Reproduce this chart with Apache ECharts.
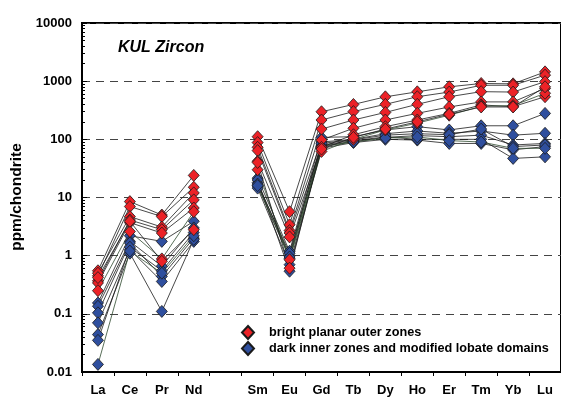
<!DOCTYPE html>
<html>
<head>
<meta charset="utf-8">
<script src="https://cdn.jsdelivr.net/npm/echarts@6/dist/echarts.min.js"></script>
<style>
  html, body { margin: 0; padding: 0; background: #fff; }
  #chart { width: 561px; height: 397px; }
</style>
</head>
<body>
<div id="chart"></div>
<script>
// REE order; the blank slot is Pm (not measured), so every line breaks there
const elements = ['La', 'Ce', 'Pr', 'Nd', '', 'Sm', 'Eu', 'Gd', 'Tb', 'Dy', 'Ho', 'Er', 'Tm', 'Yb', 'Lu'];
const yTickLabels = ['0.01', '0.1', '1', '10', '100', '1000', '10000'];

const brightName = 'bright planar outer zones';
const darkName = 'dark inner zones and modified lobate domains';

// chondrite-normalised analyses, bright planar outer zones
const brightA = [0.55, 8.5, 5.0, 24, null, 111, 5.7, 298, 398, 538, 656, 800, 912, 900, 1445];
const brightB = [0.45, 7.0, 4.7, 15, null, 88, 3.4, 215, 300, 400, 540, 650, 850, 850, 1270];
const brightC = [0.50, 4.7, 3.1, 12, null, 73, 2.7, 150, 215, 290, 400, 540, 660, 650, 980];
const brightD = [0.37, 4.1, 2.8, 9.1, null, 64, 2.45, 97, 155, 215, 280, 360, 440, 440, 750];
const brightE = [0.34, 3.7, 2.45, 6.6, null, 42, 2.1, 73, 120, 165, 215, 280, 390, 365, 540];
const brightF = [0.25, 2.6, 0.88, 5.7, null, 30, 0.85, 62, 100, 145, 190, 260, 370, 380, 620];
const brightG = [0.42, 3.9, 0.80, 2.8, null, 40, 0.61, 68, 108, 150, 200, 270, 360, 360, 800];

// dark inner zones and modified lobate domains
const darkA = [0.154, 2.2, 1.76, 3.9, null, 21.5, 1.19, 108, 111, 145, 165, 145, 171, 171, 279];
const darkB = [0.135, 1.76, 0.66, 3.0, null, 18, 1.0, 90, 100, 125, 139, 127, 139, 118, 127];
const darkC = [0.104, 1.65, 0.44, 2.0, null, 15.8, 0.9, 77, 91, 108, 116, 111, 118, 80, 85];
const darkD = [0.07, 1.27, 0.36, 1.76, null, 14.5, 0.7, 70, 88, 100, 97, 85, 85, 66, 75];
const darkE = [0.044, 1.1, 0.11, 1.9, null, 20, 0.54, 80, 95, 110, 100, 100, 100, 47, 50];
const darkF = [0.035, 1.4, 0.55, 2.5, null, 17, 1.1, 85, 98, 118, 125, 120, 150, 75, 80];
const darkG = [0.0135, 1.2, 0.5, 2.2, null, 16, 0.95, 75, 90, 105, 110, 95, 90, 70, 70];

const brightSets = [brightA, brightB, brightC, brightD, brightE, brightF, brightG];
const darkSets = [darkA, darkB, darkC, darkD, darkE, darkF, darkG];

const RED = '#ec2227';
const BLUE = '#2f4f9e';
const FONT = 'Liberation Sans, Arial, sans-serif';

function profile(name, values, color, lineColor) {
  return {
    name: name,
    type: 'line',
    data: values,
    connectNulls: false,
    symbol: 'diamond',
    symbolSize: [11, 12],
    showSymbol: true,
    itemStyle: { color: color, borderColor: '#1a1a1a', borderWidth: 0.8 },
    lineStyle: { color: lineColor, width: 0.8 },
    emphasis: { disabled: true },
    animation: false
  };
}

const series = [];
darkSets.forEach((d, i) => series.push(profile(darkName, d, BLUE, i === 6 ? '#2f4a2f' : '#1a1a1a')));
brightSets.forEach((d, i) => series.push(profile(brightName, d, RED, i === 5 ? '#2f4a2f' : '#1a1a1a')));

// log minor tick positions (2..9 within each decade)
const minorTicks = [];
for (let e = -2; e < 4; e++) {
  for (let k = 2; k <= 9; k++) minorTicks.push(k * Math.pow(10, e));
}

const chart = echarts.init(document.getElementById('chart'), null, { renderer: 'canvas' });
chart.setOption({
  animation: false,
  backgroundColor: '#fff',
  title: {
    text: 'KUL Zircon',
    left: 113,
    top: 35,
    textStyle: { fontFamily: FONT, fontSize: 16, fontWeight: 'bold', fontStyle: 'italic', color: '#000' }
  },
  legend: {
    orient: 'vertical',
    left: 236,
    top: 320,
    icon: 'diamond',
    itemWidth: 12,
    itemHeight: 13,
    itemGap: 1,
    data: [brightName, darkName],
    textStyle: { fontFamily: FONT, fontSize: 12.7, fontWeight: 'bold', color: '#000', padding: [0, 0, 0, 10] }
  },
  grid: {
    left: 82, right: -4, top: 23, bottom: 24,
    show: true, borderColor: '#000', borderWidth: 2
  },
  xAxis: {
    type: 'category',
    data: elements,
    boundaryGap: true,
    axisLine: { lineStyle: { color: '#000', width: 2 } },
    axisTick: { show: true, inside: false, length: 4, interval: 0, lineStyle: { color: '#000', width: 1 } },
    axisLabel: { interval: 0, margin: 12, fontFamily: FONT, fontSize: 13, fontWeight: 'bold', color: '#000' },
    splitLine: { show: false }
  },
  yAxis: [
    {
      type: 'log',
      logBase: 10,
      min: 0.01,
      max: 10000,
      axisLine: { show: true, lineStyle: { color: '#000', width: 2 } },
      axisTick: { show: true, inside: true, length: 5, lineStyle: { color: '#000', width: 1 } },
      axisLabel: {
        margin: 10,
        fontFamily: FONT, fontSize: 13, fontWeight: 'bold', color: '#000',
        formatter: v => yTickLabels[Math.round(Math.log10(v)) + 2]
      },
      splitLine: { show: true, lineStyle: { color: '#444', width: 1, type: [8, 6] } },
      minorTick: { show: false }
    },
    {
      type: 'log',
      logBase: 10,
      min: 0.01,
      max: 10000,
      position: 'left',
      axisLine: { show: false },
      axisLabel: { show: false },
      splitLine: { show: false },
      axisTick: { show: true, inside: true, length: 3, customValues: minorTicks, lineStyle: { color: '#000', width: 1 } }
    }
  ],
  graphic: [
    {
      type: 'text',
      x: 17, y: 197,
      rotation: Math.PI / 2,
      style: {
        text: 'ppm/chondrite',
        fontFamily: FONT, fontSize: 15.5, fontWeight: 'bold', fill: '#000',
        align: 'center', verticalAlign: 'middle'
      }
    }
  ],
  series: series
});
</script>
</body>
</html>
